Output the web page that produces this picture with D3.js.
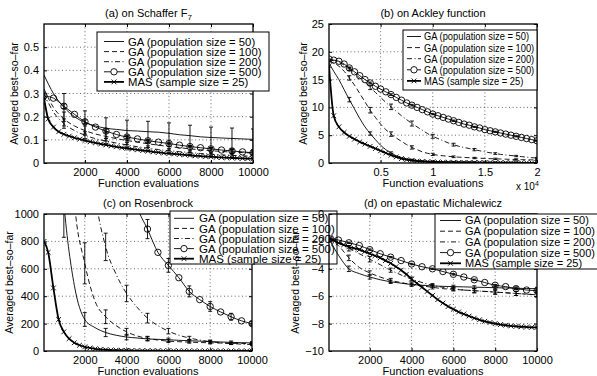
<!DOCTYPE html>
<html>
<head>
<meta charset="utf-8">
<script src="https://cdn.jsdelivr.net/npm/d3@7"></script>
<style>
  body { margin: 0; background: #fff; }
  svg { display: block; font-family: "Liberation Sans", Arial, Helvetica, sans-serif; }
</style>
</head>
<body>
<svg id="chart" width="597" height="376"></svg>
<script>
// ---- data ----
const seriesLabels = ["GA (population size = 50)", "GA (population size = 100)",
  "GA (population size = 200)", "GA (population size = 500)", "MAS (sample size = 25)"];

const xTicksTen = [2000, 4000, 6000, 8000, 10000];
const xTicksB = [5000, 10000, 15000, 20000];
const xTickLabelsB = ["0.5", "1", "1.5", "2"];
const yTicksA = [0, 0.1, 0.2, 0.3, 0.4, 0.5];
const yTicksB = [0, 5, 10, 15, 20, 25];
const yTicksC = [0, 200, 400, 600, 800, 1000];
const yTicksD = [-10, -8, -6, -4, -2, 0];

// GA checkpoints (every 500 evaluations) and error-bar positions
const evalsTen = [50, 500, 1000, 1500, 2000, 2500, 3000, 3500, 4000, 4500, 5000,
  5500, 6000, 6500, 7000, 7500, 8000, 8500, 9000, 9500, 10000];
const evalsB = [50, 500, 1000, 1500, 2000, 2500, 3000, 3500, 4000, 4500, 5000,
  5500, 6000, 6500, 7000, 7500, 8000, 8500, 9000, 9500, 10000,
  10500, 11000, 11500, 12000, 12500, 13000, 13500, 14000, 14500, 15000,
  15500, 16000, 16500, 17000, 17500, 18000, 18500, 19000, 19500, 20000];
const errEvalsTen = [1000, 2000, 3000, 4000, 5000, 6000, 7000, 8000, 9000, 10000];
const errEvalsB = [2000, 4000, 6000, 8000, 10000, 12000, 14000, 16000, 18000, 20000];
// MAS checkpoints (every 250 evaluations)
const masEvalsTen = [50, 250, 500, 750, 1000, 1250, 1500, 1750, 2000, 2250, 2500, 2750,
  3000, 3250, 3500, 3750, 4000, 4250, 4500, 4750, 5000, 5250, 5500, 5750, 6000, 6250,
  6500, 6750, 7000, 7250, 7500, 7750, 8000, 8250, 8500, 8750, 9000, 9250, 9500, 9750, 10000];

// (a) Schaffer F7
const ga50A = [0.38, 0.30, 0.24, 0.20, 0.175, 0.16, 0.15, 0.145, 0.14, 0.138, 0.135,
  0.133, 0.128, 0.122, 0.118, 0.113, 0.11, 0.108, 0.106, 0.104, 0.102];
const ga100A = [0.32, 0.24, 0.19, 0.16, 0.14, 0.125, 0.115, 0.105, 0.097, 0.09, 0.083,
  0.077, 0.071, 0.066, 0.061, 0.057, 0.053, 0.05, 0.047, 0.045, 0.043];
const ga200A = [0.30, 0.22, 0.17, 0.14, 0.12, 0.105, 0.095, 0.086, 0.078, 0.07, 0.064,
  0.058, 0.053, 0.049, 0.045, 0.041, 0.038, 0.035, 0.033, 0.031, 0.029];
const ga500A = [0.29, 0.28, 0.245, 0.21, 0.178, 0.155, 0.138, 0.123, 0.112, 0.104, 0.096,
  0.09, 0.084, 0.077, 0.071, 0.066, 0.061, 0.056, 0.052, 0.048, 0.044];
const masA = [0.28, 0.19, 0.155, 0.135, 0.124, 0.116, 0.109, 0.103, 0.097, 0.092, 0.087,
  0.082, 0.078, 0.074, 0.070, 0.066, 0.063, 0.060, 0.057, 0.054, 0.051, 0.048, 0.046,
  0.043, 0.041, 0.039, 0.037, 0.035, 0.033, 0.031, 0.030, 0.028, 0.027, 0.025, 0.024,
  0.023, 0.022, 0.021, 0.020, 0.019, 0.018];
const ga50ErrA = [0.06, 0.05, 0.045, 0.045, 0.045, 0.045, 0.045, 0.045, 0.045, 0.045];
const ga100ErrA = [0.03, 0.02, 0.02, 0.018, 0.016, 0.015, 0.014, 0.013, 0.012, 0.012];
const ga200ErrA = [0.02, 0.015, 0.012, 0.01, 0.01, 0.01, 0.008, 0.008, 0.008, 0.008];
const ga500ErrA = [0.01, 0.008, 0.008, 0.006, 0.006, 0.006, 0.005, 0.005, 0.005, 0.005];

// (b) Ackley
const ga50B = [18.0, 16.5, 15.0, 13.2, 11.4, 9.7, 8.0, 6.5, 5.3, 4.2, 3.2, 2.4, 1.8, 1.3,
  1.0, 0.75, 0.58, 0.47, 0.39, 0.33, 0.28, 0.25, 0.23, 0.21, 0.19, 0.18, 0.17, 0.16, 0.15,
  0.14, 0.13, 0.12, 0.12, 0.11, 0.11, 0.10, 0.10, 0.09, 0.09, 0.09, 0.08];
const ga100B = [18.3, 18.0, 17.4, 16.5, 15.3, 14.0, 12.5, 11.0, 9.5, 8.2, 7.0, 6.0, 5.2,
  4.5, 3.9, 3.3, 2.8, 2.4, 2.0, 1.75, 1.55, 1.4, 1.3, 1.2, 1.12, 1.05, 1.0, 0.95, 0.9,
  0.86, 0.82, 0.78, 0.75, 0.72, 0.69, 0.66, 0.63, 0.6, 0.58, 0.56, 0.54];
const ga200B = [18.5, 18.4, 18.1, 17.6, 16.9, 16.1, 15.3, 14.5, 13.6, 12.7, 11.8, 10.9,
  10.1, 9.3, 8.5, 7.8, 7.1, 6.5, 5.9, 5.3, 4.8, 4.4, 4.0, 3.6, 3.3, 3.0, 2.8, 2.6, 2.4,
  2.2, 2.0, 1.85, 1.7, 1.55, 1.45, 1.35, 1.25, 1.15, 1.05, 0.95, 0.9];
const ga500B = [18.7, 18.5, 18.3, 17.8, 17.1, 16.4, 15.7, 15.0, 14.4, 13.8, 13.3, 12.8,
  12.3, 11.8, 11.3, 10.8, 10.4, 10.0, 9.6, 9.2, 8.8, 8.5, 8.2, 7.9, 7.6, 7.3, 7.0, 6.8,
  6.5, 6.3, 6.0, 5.8, 5.6, 5.4, 5.2, 5.0, 4.8, 4.6, 4.4, 4.2, 4.0];
const masB = [17.5, 8.5, 6.5, 5.5, 4.8, 4.3, 3.8, 3.4, 3.0, 2.6, 2.2, 1.8, 1.4, 1.1, 0.8,
  0.6, 0.45, 0.35, 0.28, 0.22, 0.18, 0.16, 0.14, 0.13, 0.12, 0.11, 0.1, 0.09, 0.08, 0.08,
  0.07, 0.07, 0.06, 0.06, 0.05, 0.05, 0.05, 0.04, 0.04, 0.04, 0.03];
const ga50ErrB = [0.4, 0.3, 0.2, 0.1, 0.08, 0.05, 0.05, 0.05, 0.05, 0.05];
const ga100ErrB = [0.4, 0.5, 0.4, 0.3, 0.2, 0.15, 0.12, 0.12, 0.12, 0.12];
const ga200ErrB = [0.3, 0.4, 0.5, 0.45, 0.35, 0.25, 0.2, 0.15, 0.12, 0.12];
const ga500ErrB = [0.15, 0.15, 0.15, 0.15, 0.12, 0.12, 0.1, 0.1, 0.1, 0.1];

// (c) Rosenbrock
const ga50C = [4000, 2200, 1080, 480, 230, 170, 135, 115, 102, 95, 88, 85, 82, 78, 75,
  72, 69, 66, 63, 61, 59];
const ga100C = [6000, 4000, 2500, 1100, 640, 360, 250, 185, 140, 110, 92, 80, 72, 68, 65,
  62, 60, 58, 56, 55, 53];
const ga200C = [9000, 7000, 5000, 3500, 2000, 1150, 760, 560, 420, 320, 240, 185, 145,
  115, 95, 80, 68, 60, 55, 50, 47];
const ga500C = [null, null, null, null, null, null, null, null, 1400, 1060, 890, 720, 625,
  535, 435, 375, 325, 285, 250, 220, 200];
const masC = [800, 720, 460, 230, 140, 90, 60, 42, 30, 22, 16, 12, 9, 7, 6, 5, 4, 3.5, 3,
  2.6, 2.2, 2, 1.8, 1.6, 1.4, 1.3, 1.2, 1.1, 1.0, 0.9, 0.8, 0.75, 0.7, 0.65, 0.6, 0.55,
  0.5, 0.45, 0.4, 0.38, 0.35];
const ga50ErrC = [250, 50, 30, 20, 15, 12, 10, 10, 10, 10];
const ga100ErrC = [300, 150, 50, 25, 15, 10, 8, 8, 8, 8];
const ga200ErrC = [300, 300, 100, 60, 35, 20, 12, 10, 8, 8];
const ga500ErrC = [0, 0, 0, 100, 70, 50, 40, 35, 25, 15];

// (d) epastatic Michalewicz
const ga50D = [-1.8, -3.0, -4.0, -4.35, -4.6, -4.8, -4.95, -5.05, -5.15, -5.2, -5.25,
  -5.28, -5.3, -5.32, -5.34, -5.36, -5.38, -5.4, -5.42, -5.44, -5.45];
const ga100D = [-1.8, -2.3, -3.2, -3.9, -4.3, -4.6, -4.85, -5.0, -5.15, -5.25, -5.35,
  -5.45, -5.5, -5.55, -5.6, -5.65, -5.7, -5.75, -5.8, -5.85, -5.9];
const ga200D = [-1.8, -2.1, -2.5, -2.9, -3.3, -3.7, -4.1, -4.45, -4.75, -5.0, -5.2,
  -5.35, -5.45, -5.55, -5.6, -5.65, -5.7, -5.75, -5.8, -5.85, -5.9];
const ga500D = [-1.8, -1.9, -2.1, -2.3, -2.6, -2.9, -3.15, -3.4, -3.65, -3.85, -4.0,
  -4.2, -4.4, -4.6, -4.8, -5.0, -5.2, -5.3, -5.45, -5.55, -5.6];
const masD = [-1.8, -1.9, -2.1, -2.25, -2.4, -2.5, -2.6, -2.75, -2.9, -3.05, -3.2, -3.4,
  -3.6, -3.85, -4.1, -4.4, -4.75, -5.05, -5.35, -5.65, -5.95, -6.25, -6.5, -6.75, -6.95,
  -7.15, -7.3, -7.45, -7.6, -7.72, -7.83, -7.92, -8.0, -8.07, -8.12, -8.17, -8.2, -8.23,
  -8.25, -8.27, -8.28];
const ga50ErrD = [0.2, 0.15, 0.12, 0.1, 0.1, 0.1, 0.1, 0.1, 0.1, 0.1];
const ga100ErrD = [0.2, 0.15, 0.15, 0.12, 0.12, 0.12, 0.15, 0.15, 0.15, 0.15];
const ga200ErrD = [0.2, 0.2, 0.15, 0.15, 0.12, 0.12, 0.15, 0.15, 0.15, 0.15];
const ga500ErrD = [0.05, 0.05, 0.05, 0.05, 0.05, 0.05, 0.05, 0.05, 0.05, 0.05];

// ---- drawing ----
const dashes = [null, "5,3", "5,2.5,1,2.5", null, null];
const minus = v => String(v).replace("-", "\u2212");

const panels = [
  { id: "a", title: "(a) on Schaffer F", sub: "7", left: 44, top: 24, width: 209, height: 139,
    xDomain: [50, 10000], yDomain: [0, 0.6], xTicks: xTicksTen, yTicks: yTicksA, xFmt: d => d,
    evals: evalsTen, ga: [ga50A, ga100A, ga200A, ga500A], errEvals: errEvalsTen,
    errs: [ga50ErrA, ga100ErrA, ga200ErrA, ga500ErrA], masEvals: masEvalsTen, mas: masA,
    ylabX: 14, legend: { x: 97, y: 32, w: 172, h: 59, y0: 41.5, dy: 10.1, s0: 104, s1: 124, tx: 128, fs: 11.3, sx: 1 } },
  { id: "b", title: "(b) on Ackley function", left: 329, top: 24, width: 208, height: 139,
    xDomain: [50, 20000], yDomain: [0, 25], xTicks: xTicksB, yTicks: yTicksB,
    xFmt: d => xTickLabelsB[xTicksB.indexOf(d)],
    evals: evalsB, ga: [ga50B, ga100B, ga200B, ga500B], errEvals: errEvalsB,
    errs: [ga50ErrB, ga100ErrB, ga200ErrB, ga500ErrB], masEvals: evalsB, mas: masB,
    ylabX: 303, legend: { x: 403, y: 30, w: 134, h: 60, y0: 36.5, dy: 11.1, s0: 407, s1: 421, tx: 424, fs: 11, sx: 0.85 } },
  { id: "c", title: "(c) on Rosenbrock", left: 44, top: 214, width: 208, height: 137,
    xDomain: [50, 10000], yDomain: [0, 1000], xTicks: xTicksTen, yTicks: yTicksC, xFmt: d => d,
    evals: evalsTen, ga: [ga50C, ga100C, ga200C, ga500C], errEvals: errEvalsTen,
    errs: [ga50ErrC, ga100ErrC, ga200ErrC, ga500ErrC], masEvals: masEvalsTen, mas: masC,
    ylabX: 9, legend: { x: 170, y: 211, w: 167, h: 53, y0: 218.3, dy: 10.1, s0: 174, s1: 194, tx: 199, fs: 11.5, sx: 1 } },
  { id: "d", title: "(d) on epastatic Michalewicz", left: 329, top: 214, width: 208, height: 137,
    xDomain: [50, 10000], yDomain: [-10, 0], xTicks: xTicksTen, yTicks: yTicksD, xFmt: d => d,
    evals: evalsTen, ga: [ga50D, ga100D, ga200D, ga500D], errEvals: errEvalsTen,
    errs: [ga50ErrD, ga100ErrD, ga200ErrD, ga500ErrD], masEvals: masEvalsTen, mas: masD,
    ylabX: 295, legend: { x: 435, y: 214, w: 170, h: 55, y0: 220.5, dy: 10.7, s0: 440, s1: 461, tx: 465, fs: 11, sx: 1 } }
];

const svg = d3.select("#chart");

function xMark(sel, cx, cy, s) {
  sel.append("path")
    .attr("d", `M${cx - s},${cy - s}L${cx + s},${cy + s}M${cx - s},${cy + s}L${cx + s},${cy - s}`)
    .attr("stroke", "#000").attr("stroke-width", 0.9).attr("fill", "none");
}

function drawPanel(p) {
  const g = svg.append("g");
  const bottom = p.top + p.height, right = p.left + p.width;
  const x = d3.scaleLinear().domain(p.xDomain).range([p.left, right]);
  const y = d3.scaleLinear().domain(p.yDomain).range([bottom, p.top]);

  // dotted grid
  g.append("g").selectAll("line").data(p.xTicks.filter(t => x(t) < right - 1))
    .join("line")
    .attr("x1", d => x(d)).attr("x2", d => x(d)).attr("y1", p.top).attr("y2", bottom);
  g.append("g").selectAll("line").data(p.yTicks.filter(t => y(t) < bottom - 1 && y(t) > p.top + 1))
    .join("line")
    .attr("x1", p.left).attr("x2", right).attr("y1", d => y(d)).attr("y2", d => y(d));
  g.selectAll("g line").attr("stroke", "#444").attr("stroke-width", 0.8).attr("stroke-dasharray", "1,2.6");

  // axes with inward ticks
  const styleAxis = a => {
    a.select(".domain").remove();
    a.attr("font-family", null).attr("font-size", 11);
    a.selectAll("line").attr("stroke", "#000");
    a.selectAll("text").attr("fill", "#000");
  };
  g.append("g").attr("transform", `translate(0,${bottom})`)
    .call(d3.axisBottom(x).tickValues(p.xTicks).tickFormat(p.xFmt).tickSizeInner(-3).tickSizeOuter(0).tickPadding(5))
    .call(styleAxis);
  g.append("g").attr("transform", `translate(0,${p.top})`)
    .call(d3.axisTop(x).tickValues(p.xTicks).tickFormat("").tickSizeInner(-3).tickSizeOuter(0))
    .call(styleAxis);
  g.append("g").attr("transform", `translate(${p.left},0)`)
    .call(d3.axisLeft(y).tickValues(p.yTicks).tickFormat(minus).tickSizeInner(-3).tickSizeOuter(0).tickPadding(5))
    .call(styleAxis);
  g.append("g").attr("transform", `translate(${right},0)`)
    .call(d3.axisRight(y).tickValues(p.yTicks).tickFormat("").tickSizeInner(-3).tickSizeOuter(0))
    .call(styleAxis);

  // data, clipped to the frame
  g.append("clipPath").attr("id", "clip" + p.id).append("rect")
    .attr("x", p.left).attr("y", p.top).attr("width", p.width).attr("height", p.height);
  const plot = g.append("g").attr("clip-path", `url(#clip${p.id})`);
  const line = d3.line().defined(d => d[1] != null)
    .x(d => x(d[0])).y(d => y(d[1])).curve(d3.curveMonotoneX);

  p.ga.forEach((vals, k) => {
    const pts = p.evals.map((e, i) => [e, vals[i]]);
    plot.append("path").datum(pts).attr("d", line)
      .attr("fill", "none").attr("stroke", "#000").attr("stroke-width", 0.9)
      .attr("stroke-dasharray", dashes[k]);
    const bars = p.errEvals.map((e, i) => [e, vals[p.evals.indexOf(e)], p.errs[k][i]])
      .filter(d => d[1] != null && d[2] > 0);
    const eb = plot.append("g").attr("stroke", "#000").attr("stroke-width", 0.9);
    bars.forEach(([e, m, s]) => {
      const cx = x(e);
      eb.append("line").attr("x1", cx).attr("x2", cx).attr("y1", y(m - s)).attr("y2", y(m + s));
      eb.append("line").attr("x1", cx - 2).attr("x2", cx + 2).attr("y1", y(m - s)).attr("y2", y(m - s));
      eb.append("line").attr("x1", cx - 2).attr("x2", cx + 2).attr("y1", y(m + s)).attr("y2", y(m + s));
    });
    if (k === 3) {
      plot.append("g").selectAll("circle").data(pts.filter(d => d[1] != null)).join("circle")
        .attr("cx", d => x(d[0])).attr("cy", d => y(d[1])).attr("r", 3.2)
        .attr("fill", "none").attr("stroke", "#000").attr("stroke-width", 0.9);
    }
  });

  const masPts = p.masEvals.map((e, i) => [e, p.mas[i]]);
  plot.append("path").datum(masPts).attr("d", line)
    .attr("fill", "none").attr("stroke", "#000").attr("stroke-width", 1.8);
  const mk = plot.append("g");
  masPts.forEach(d => xMark(mk, x(d[0]), y(d[1]), 2.4));

  // frame
  g.append("rect").attr("x", p.left).attr("y", p.top).attr("width", p.width).attr("height", p.height)
    .attr("fill", "none").attr("stroke", "#000").attr("stroke-width", 1.3);

  // title and axis labels
  const cx = (p.left + right) / 2;
  const t = g.append("text").attr("x", cx).attr("y", p.top - 7).attr("text-anchor", "middle")
    .attr("font-size", 11).text(p.title);
  if (p.sub) t.append("tspan").attr("dy", 3).attr("font-size", 8).text(p.sub);
  g.append("text").attr("x", cx).attr("y", bottom + 24).attr("text-anchor", "middle")
    .attr("font-size", 11).text("Function evaluations");
  g.append("text").attr("transform", `translate(${p.ylabX},${(p.top + bottom) / 2}) rotate(-90)`)
    .attr("text-anchor", "middle").attr("dy", "0.35em").attr("font-size", 10.5)
    .text("Averaged best\u2013so\u2013far");
  if (p.id === "b") {
    const m = g.append("text").attr("x", 516).attr("y", bottom + 27).attr("font-size", 10).text("x 10");
    m.append("tspan").attr("dy", -4).attr("font-size", 7).text("4");
  }

  // legend
  const L = p.legend;
  const lg = g.append("g");
  lg.append("rect").attr("x", L.x).attr("y", L.y).attr("width", L.w).attr("height", L.h)
    .attr("fill", "#fff").attr("stroke", "#000").attr("stroke-width", 1);
  seriesLabels.forEach((lab, k) => {
    const ry = L.y0 + k * L.dy;
    lg.append("line").attr("x1", L.s0).attr("x2", L.s1).attr("y1", ry).attr("y2", ry)
      .attr("stroke", "#000").attr("stroke-width", k === 4 ? 1.8 : 0.9)
      .attr("stroke-dasharray", dashes[k]);
    const mx = (L.s0 + L.s1) / 2;
    if (k === 3) lg.append("circle").attr("cx", mx).attr("cy", ry).attr("r", 3.2)
      .attr("fill", "#fff").attr("stroke", "#000").attr("stroke-width", 0.9);
    if (k === 4) xMark(lg, mx, ry, 2.4);
    lg.append("text").attr("transform", `translate(${L.tx},${ry}) scale(${L.sx},1)`)
      .attr("dy", "0.36em").attr("font-size", L.fs).text(lab);
  });
}

panels.forEach(drawPanel);
</script>
</body>
</html>
